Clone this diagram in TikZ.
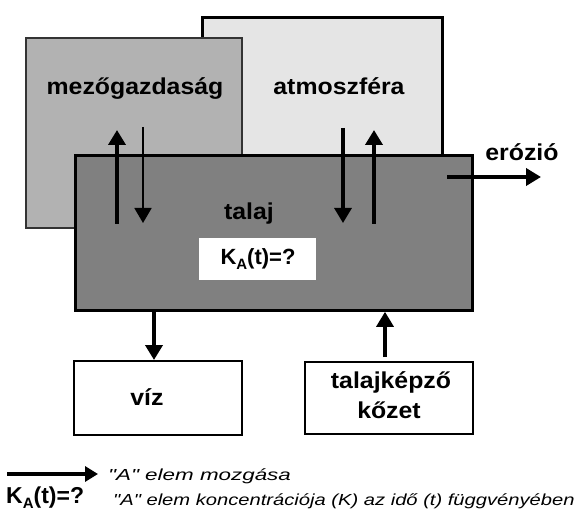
\documentclass[tikz,border=0pt]{standalone}
\usepackage{fontspec}
\setmainfont{Liberation Sans}
\newfontfamily\labelfont[FakeStretch=1.08]{Liberation Sans}
\newfontfamily\legendfonta[FakeStretch=1.40]{Liberation Sans}
\newfontfamily\legendfontb[FakeStretch=1.26]{Liberation Sans}
\usetikzlibrary{arrows.meta}

\tikzset{
  lbl/.style={font=\labelfont\fontsize{23}{25}\selectfont\bfseries, inner sep=0pt},
  conclbl/.style={font=\fontsize{22}{24}\selectfont\bfseries, inner sep=0pt},
  headtip/.style={-{Triangle[length=15pt,width=17pt]}},
  flowthick/.style={line width=4.8pt, headtip},
  flowmid/.style={line width=3.2pt, headtip},
  flowthin/.style={line width=1.8pt, headtip},
  legtexta/.style={font=\legendfonta\itshape\fontsize{16}{18}\selectfont, inner sep=0pt, anchor=base west},
  legtextb/.style={font=\legendfontb\itshape\fontsize{16}{18}\selectfont, inner sep=0pt, anchor=base west},
}
\newcommand{\conc}{K\raisebox{-5pt}{\fontsize{15}{15}\selectfont A}(t)=?}

\begin{document}
\begin{tikzpicture}[x=1pt, y=-1pt]
  \useasboundingbox (0,0) rectangle (579,516);

  % background compartments
  \node[draw=black, line width=2.6pt, fill=black!10, minimum width=240pt, minimum height=190pt,
        inner sep=0pt, anchor=north west] (atm) at (201,16) {};
  \node[draw=black!80, line width=1.6pt, fill=black!30, minimum width=216pt, minimum height=190pt,
        inner sep=0pt, anchor=north west] (mez) at (25,37) {};
  % soil
  \node[draw=black, line width=2.8pt, fill=black!50, minimum width=397pt, minimum height=155pt,
        inner sep=0pt, anchor=north west] (talaj) at (74,154) {};
  \node[fill=white, minimum width=117pt, minimum height=42pt, inner sep=0pt,
        anchor=north west] (kabox) at (199,238) {};
  % lower compartments
  \node[draw=black, line width=2pt, fill=white, minimum width=168pt, minimum height=74pt,
        inner sep=0pt, anchor=north west] (viz) at (73,360) {};
  \node[draw=black, line width=2pt, fill=white, minimum width=168pt, minimum height=72pt,
        inner sep=0pt, anchor=north west] (kozet) at (304,361) {};

  % labels
  \node[lbl, anchor=base] (mezt) at (135,95) {mezőgazdaság};
  \node[lbl, anchor=base] (atmt) at (339,95) {atmoszféra};
  \node[lbl, anchor=base] (talajt) at (249,220) {talaj};
  \node[conclbl, anchor=base] (kat) at (258,265) {\conc};
  \node[lbl, anchor=base] (erot) at (522,161) {erózió};
  \node[lbl, anchor=base] (vizt) at (147,405) {víz};
  \node[lbl, anchor=base] (kozt1) at (391,388) {talajképző};
  \node[lbl, anchor=base] (kozt2) at (389,418) {kőzet};

  % flow end points
  \coordinate (a1s) at (117,224); \coordinate (a1e) at (117,130);
  \coordinate (a2s) at (143,127); \coordinate (a2e) at (143,223);
  \coordinate (a3s) at (343,128); \coordinate (a3e) at (343,223);
  \coordinate (a4s) at (374,224); \coordinate (a4e) at (374,130);
  \coordinate (es) at (447,177);  \coordinate (ee) at (541,177);
  \coordinate (vs) at (154,309);  \coordinate (ks) at (385,357);

  % flows of element A
  \draw[flowthick] (a1s) -- (a1e);
  \draw[flowthin] (a2s) -- (a2e);
  \draw[flowmid] (a3s) -- (a3e);
  \draw[flowthick] (a4s) -- (a4e);
  \draw[flowthick] (es) -- (ee);
  \draw[flowthick] (vs) -- (vs |- viz.north);
  \draw[flowmid] (ks) -- (ks |- talaj.south);

  % legend
  \coordinate (ls) at (7,474); \coordinate (le) at (98,474);
  \draw[line width=4.5pt, -{Triangle[length=13pt,width=15pt]}] (ls) -- (le);
  \node[legtexta] (leg1) at (108,480) {"A" elem mozgása};
  \node[conclbl, font=\fontsize{23}{25}\selectfont\bfseries, anchor=base west] (leg2k) at (6,503) {\conc};
  \node[legtextb] (leg2) at (113,505) {"A" elem koncentrációja (K) az idő (t) függvényében};
\end{tikzpicture}
\end{document}
